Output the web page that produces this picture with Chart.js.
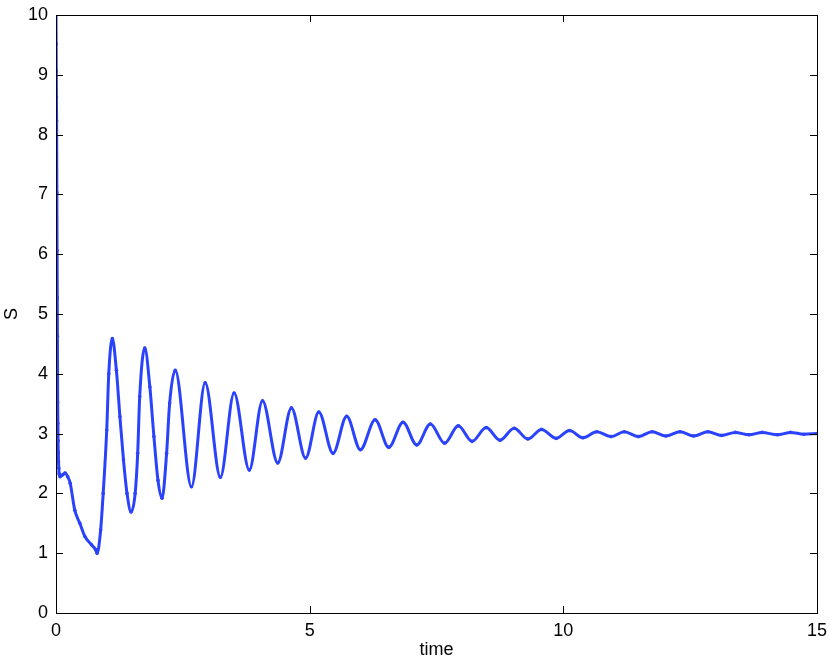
<!DOCTYPE html>
<html>
<head>
<meta charset="utf-8">
<script src="https://cdn.jsdelivr.net/npm/chart.js@4.4.1/dist/chart.umd.min.js"></script>
<style>
    body { margin: 0; background: #fff; }
    #wrap { width: 830px; height: 662px; position: relative; }
</style>
</head>
<body>
<div id="wrap"><canvas id="sChart"></canvas></div>
<script>

// values (time, S)
const timeValues = [
    0, 0.003, 0.006, 0.009, 0.012, 0.017, 0.021, 0.025, 0.028, 0.033, 0.037, 0.041, 0.045, 0.05, 0.055, 0.062,
    0.08, 0.13, 0.18, 0.23, 0.28, 0.37, 0.47, 0.57, 0.70, 0.78, 0.81,
    0.88, 0.93, 1.0, 1.04, 1.11, 1.19, 1.26, 1.33, 1.40, 1.48, 1.56, 1.61, 1.65, 1.75,
    1.85, 1.93, 2.01, 2.09, 2.18, 2.24, 2.35,
    2.67, 2.94, 3.24, 3.51, 3.81, 4.07, 4.37, 4.64, 4.92, 5.18, 5.46, 5.73, 6.00, 6.29, 6.56, 6.84,
    7.11, 7.38, 7.66, 7.93, 8.20, 8.48, 8.75, 9.03, 9.30, 9.57, 9.86, 10.12, 10.39, 10.66, 10.94,
    11.20, 11.48, 11.75, 12.02, 12.30, 12.57, 12.85, 13.12, 13.39, 13.66, 13.92, 14.22, 14.48, 14.74, 15.0
];
const sValues = [
    10, 9.51, 9.05, 8.62, 8.23, 7.03, 6.06, 5.27, 4.63, 3.52, 3.17, 2.88, 2.68, 2.53, 2.42, 2.33,
    2.28, 2.31, 2.34, 2.28, 2.17, 1.72, 1.50, 1.28, 1.14, 1.06, 1.00,
    1.39, 2.0, 3.06, 4.0, 4.59, 4.06, 3.28, 2.56, 2.0, 1.69, 2.0, 2.67, 3.62, 4.43,
    3.78, 2.95, 2.22, 1.92, 2.67, 3.51, 4.06,
    2.11, 3.85, 2.27, 3.68, 2.39, 3.55, 2.51, 3.43, 2.59, 3.36, 2.67, 3.29, 2.73, 3.23, 2.77, 3.19,
    2.81, 3.16, 2.84, 3.13, 2.87, 3.10, 2.89, 3.09, 2.91, 3.07, 2.92, 3.05, 2.93, 3.03, 2.95,
    3.03, 2.95, 3.03, 2.96, 3.03, 2.96, 3.03, 2.97, 3.02, 2.98, 3.02, 2.98, 3.02, 2.99, 3.00
];

const xTicks = [0, 5, 10, 15];
const yTicks = [0, 1, 2, 3, 4, 5, 6, 7, 8, 9, 10];

const points = timeValues.map((t, i) => ({ x: t, y: sValues[i] }));

// MATLAB style box with inward ticks on all four sides
const boxTicks = {
    id: 'boxTicks',
    afterDraw(chart) {
        const { ctx, chartArea: a, scales } = chart;
        const len = 7;
        ctx.save();
        ctx.strokeStyle = '#000';
        ctx.lineWidth = 1;
        ctx.beginPath();
        xTicks.forEach(v => {
            const px = Math.round(scales.x.getPixelForValue(v)) + 0.5;
            ctx.moveTo(px, a.bottom); ctx.lineTo(px, a.bottom - len);
            ctx.moveTo(px, a.top); ctx.lineTo(px, a.top + len);
        });
        yTicks.forEach(v => {
            const py = Math.round(scales.y.getPixelForValue(v)) + 0.5;
            ctx.moveTo(a.left, py); ctx.lineTo(a.left + len, py);
            ctx.moveTo(a.right, py); ctx.lineTo(a.right - len, py);
        });
        ctx.stroke();
        ctx.strokeRect(Math.round(a.left) + 0.5, Math.round(a.top) + 0.5,
            Math.round(a.right - a.left), Math.round(a.bottom - a.top));
        ctx.restore();
    }
};

Chart.defaults.font.family = "'Liberation Sans', Arial, sans-serif";
Chart.defaults.font.size = 18;
Chart.defaults.color = '#000';

new Chart(document.getElementById('sChart'), {
    type: 'line',
    data: {
        datasets: [{
            label: 'S',
            data: points,
            borderColor: '#2a42fb',
            backgroundColor: '#2a42fb',
            borderWidth: 3,
            pointRadius: 1.8,
            pointBorderWidth: 0,
            cubicInterpolationMode: 'monotone',
            fill: false
        }]
    },
    options: {
        responsive: true,
        maintainAspectRatio: false,
        animation: false,
        layout: { padding: { top: 15, right: 13, left: 0, bottom: 0 } },
        plugins: {
            legend: { display: false },
            tooltip: { enabled: false }
        },
        scales: {
            x: {
                type: 'linear',
                min: 0,
                max: 15,
                afterFit: s => { s.height = 49; s.paddingLeft = 0; s.paddingRight = 0; },
                afterBuildTicks: s => { s.ticks = xTicks.map(v => ({ value: v })); },
                grid: { display: false, drawTicks: false },
                border: { display: false },
                ticks: { padding: 7 },
                title: { display: true, text: 'time', padding: { top: 0, bottom: 1 } }
            },
            y: {
                type: 'linear',
                min: 0,
                max: 10,
                afterFit: s => { s.width = 56; s.paddingTop = 0; s.paddingBottom = 0; },
                afterBuildTicks: s => { s.ticks = yTicks.map(v => ({ value: v })); },
                grid: { display: false, drawTicks: false },
                border: { display: false },
                ticks: { padding: 8 },
                title: { display: true, text: 'S', padding: { top: 1 } }
            }
        }
    },
    plugins: [boxTicks]
});
</script>
</body>
</html>
